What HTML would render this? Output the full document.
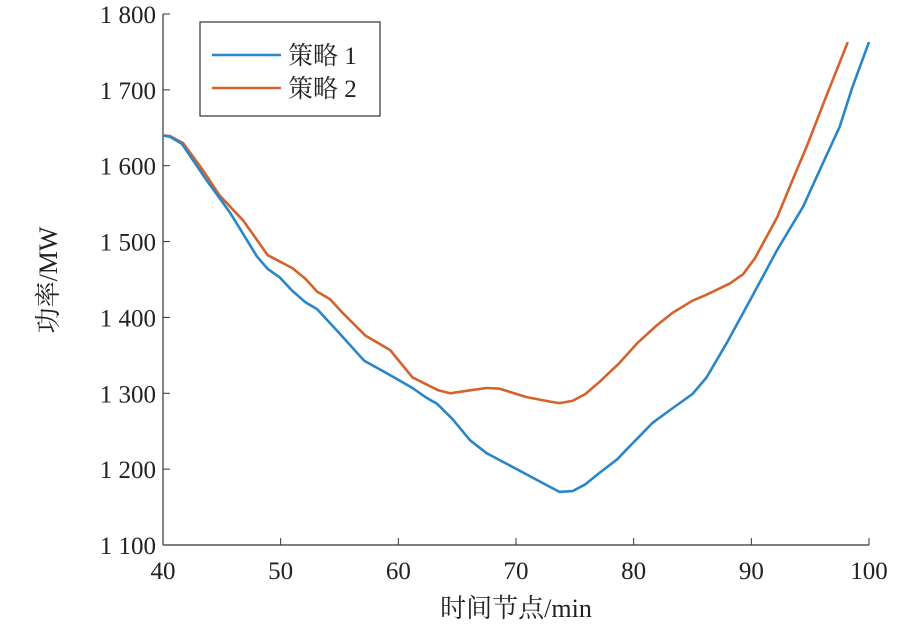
<!DOCTYPE html>
<html><head><meta charset="utf-8"><style>
html,body{margin:0;padding:0;background:#fff;}
svg text{font-family:"Liberation Serif","Noto Serif CJK SC",serif;fill:#222;}
</style></head><body>
<svg id="chart" width="922" height="626" viewBox="0 0 922 626" xmlns="http://www.w3.org/2000/svg"></svg>
<script>
const xTicks=[40,50,60,70,80,90,100];
const yTicks=[1100,1200,1300,1400,1500,1600,1700,1800];
const yTickLabels=["1 100","1 200","1 300","1 400","1 500","1 600","1 700","1 800"];
const s1x=[40,40.6,41.6,43.7,45.7,48,48.9,49.9,51,52.1,53.1,55,57.1,59.3,61.2,62.3,63.3,64.6,66.1,67.5,68.6,72.6,73.7,74.8,75.9,77.1,78.6,79.9,81.6,83.1,85,86.2,87.9,89.9,92.2,94.4,96.1,97.5,98.6,100];
const s1y=[1640,1638,1629,1581,1538,1480,1464,1453,1435,1420,1411,1379,1343,1324,1307,1295,1286,1266,1238,1221,1212,1179,1170,1171,1180,1195,1213,1234,1261,1278,1299,1321,1366,1423,1489,1546,1604,1651,1704,1763];
const s2x=[40,40.6,41.7,43.4,44.8,46.8,48,48.9,51,52.1,53.1,54.2,55.2,57.2,59.3,61.2,63.4,64.4,66.1,67.5,68.6,70.9,72.9,73.7,74.8,75.9,77.1,78.8,80.3,82,83.3,85,86.2,88.2,89.3,90.3,92.2,93.5,94.7,96.3,98.2];
const s2y=[1640,1639,1630,1594,1561,1528,1502,1482,1465,1451,1434,1424,1407,1376,1357,1321,1304,1300,1304,1307,1306,1295,1289,1287,1290,1299,1315,1340,1366,1390,1406,1422,1430,1445,1457,1478,1532,1581,1625,1689,1763];
const seriesNames=["策略 1","策略 2"];
const L=163,R=869,T=14,B=545;
const X=v=>L+(v-40)/(100-40)*(R-L);
const Y=v=>B-(v-1100)/(1800-1100)*(B-T);
const svg=document.getElementById('chart');
const NS="http://www.w3.org/2000/svg";
function mk(tag,attrs,text){const e=document.createElementNS(NS,tag);for(const k in attrs)e.setAttribute(k,attrs[k]);if(text!==undefined)e.textContent=text;svg.appendChild(e);return e;}
let e;
e=mk('line',{x1:L,y1:T,x2:L,y2:B,stroke:'#333','stroke-width':1.2});


e=mk('line',{x1:L,y1:B,x2:R,y2:B,stroke:'#333','stroke-width':1.2});


xTicks.forEach(v=>{
 e=mk('line',{x1:X(v),y1:B,x2:X(v),y2:B-7,stroke:'#333','stroke-width':1});
 
 
 e=mk('text',{x:X(v),y:B+34,'text-anchor':'middle','font-size':25},String(v));
 
 
});
yTicks.forEach((v,i)=>{
 e=mk('line',{x1:L,y1:Y(v),x2:L+7,y2:Y(v),stroke:'#333','stroke-width':1});
 
 
 e=mk('text',{x:L-7,y:Y(v)+9,'text-anchor':'end','font-size':25},yTickLabels[i]);
 
 
});
function line(xs,ys,color,name){
 const d=xs.map((x,i)=>(i?'L':'M')+X(x).toFixed(1)+' '+Y(ys[i]).toFixed(1)).join(' ');
 const p=mk('path',{d:d,fill:'none',stroke:color,'stroke-width':2.6,'stroke-linejoin':'round'});
 
 
}
line(s2x,s2y,'#D4622B','series-strategy-2');
line(s1x,s1y,'#2A86C6','series-strategy-1');
e=mk('rect',{x:200,y:22,width:180,height:94,fill:'#fff',stroke:'#333','stroke-width':1.2});


[['#2A86C6',55],['#D4622B',88]].forEach((c,i)=>{
 e=mk('line',{x1:212,y1:c[1],x2:281,y2:c[1],stroke:c[0],'stroke-width':2.6});
 
 
 e=mk('text',{x:288,y:c[1]+9,'font-size':25},seriesNames[i]);
 
 
});
e=mk('text',{x:516,y:617,'text-anchor':'middle','font-size':26},'时间节点/min');


e=mk('text',{x:0,y:0,'text-anchor':'middle','font-size':26,transform:'translate(57,280) rotate(-90)'},'功率/MW');


</script>
</body></html>
